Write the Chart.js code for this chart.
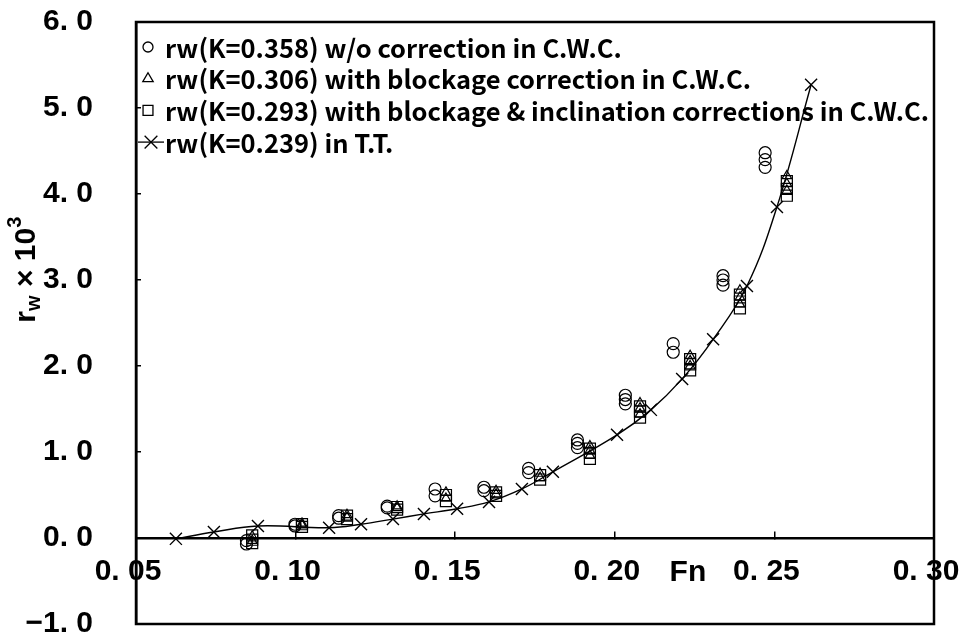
<!DOCTYPE html>
<html>
<head>
<meta charset="utf-8">
<script src="https://cdn.jsdelivr.net/npm/chart.js@4/dist/chart.umd.min.js"></script>
<style>
  html, body { margin: 0; padding: 0; background: #fff; }
  #wrap { width: 963px; height: 641px; }
</style>
</head>
<body>
<div id="wrap"><canvas id="c" width="963" height="641"></canvas></div>
<script>
// ---- data: wave-making resistance coefficient r_w (x 10^3) vs Froude number Fn ----

// C.W.C., K=0.358, no correction
const fnNoCorr = [0.0846, 0.0846, 0.0998, 0.0998, 0.1135, 0.1135, 0.1287, 0.1287,
                  0.1437, 0.1437, 0.1590, 0.1590, 0.1730, 0.1730, 0.1883, 0.1883, 0.1883,
                  0.2033, 0.2033, 0.2033, 0.2183, 0.2183, 0.2339, 0.2339, 0.2339,
                  0.2471, 0.2471, 0.2471];
const rwNoCorr = [-0.03, -0.07, 0.14, 0.16, 0.23, 0.26, 0.35, 0.37,
                  0.49, 0.57, 0.55, 0.59, 0.76, 0.81, 1.05, 1.10, 1.14,
                  1.56, 1.61, 1.66, 2.16, 2.26, 2.94, 3.00, 3.05,
                  4.31, 4.40, 4.48];

// C.W.C., K=0.306, blockage correction
const fnBlockage = [0.0864, 0.0864, 0.1020, 0.1020, 0.1161, 0.1161, 0.1318, 0.1318,
                    0.1471, 0.1471, 0.1628, 0.1628, 0.1766, 0.1766, 0.1922, 0.1922, 0.1922,
                    0.2079, 0.2079, 0.2079, 0.2236, 0.2236, 0.2236, 0.2392, 0.2392, 0.2392,
                    0.2539, 0.2539, 0.2539];
const rwBlockage = [0.02, -0.03, 0.15, 0.17, 0.24, 0.27, 0.35, 0.37,
                    0.46, 0.53, 0.51, 0.55, 0.70, 0.75, 0.96, 1.02, 1.07,
                    1.44, 1.51, 1.57, 2.00, 2.06, 2.12, 2.72, 2.80, 2.88,
                    4.04, 4.12, 4.21];

// C.W.C., K=0.293, blockage & inclination corrections
const fnBlockIncl = [0.0864, 0.0864, 0.0864, 0.1020, 0.1020, 0.1161, 0.1161, 0.1318, 0.1318,
                     0.1471, 0.1471, 0.1628, 0.1628, 0.1766, 0.1766, 0.1922, 0.1922, 0.1922,
                     0.2079, 0.2079, 0.2079, 0.2236, 0.2236, 0.2236, 0.2392, 0.2392, 0.2392,
                     0.2539, 0.2539, 0.2539];
const rwBlockIncl = [0.03, -0.02, -0.06, 0.13, 0.16, 0.22, 0.26, 0.33, 0.36,
                     0.43, 0.50, 0.49, 0.53, 0.68, 0.73, 0.92, 0.99, 1.04,
                     1.40, 1.47, 1.53, 1.95, 2.02, 2.08, 2.67, 2.75, 2.83,
                     3.98, 4.06, 4.15];

// Towing tank, K=0.239
const fnTowing = [0.0625, 0.0744, 0.0882, 0.1105, 0.1205, 0.1305, 0.1402, 0.1506, 0.1606,
                  0.1709, 0.1806, 0.2007, 0.2113, 0.2211, 0.2308, 0.2414, 0.2508, 0.2615];
const rwTowing = [-0.01, 0.07, 0.14, 0.12, 0.16, 0.22, 0.28, 0.34, 0.42,
                  0.57, 0.77, 1.20, 1.49, 1.85, 2.31, 2.93, 3.85, 5.27];

const seriesLabels = [
  'rw(K=0.358) w/o correction in C.W.C.',
  'rw(K=0.306) with blockage correction in C.W.C.',
  'rw(K=0.293) with blockage & inclination corrections in C.W.C.',
  'rw(K=0.239) in T.T.'
];

// axis ticks
const xTickValues = [0.05, 0.10, 0.15, 0.20, 0.25, 0.30];
const xTickLabels = ['0. 05', '0. 10', '0. 15', '0. 20', '0. 25', '0. 30'];
const yTickValues = [-1, 0, 1, 2, 3, 4, 5, 6];
const yTickLabels = ['\u22121. 0', '0. 0', '1. 0', '2. 0', '3. 0', '4. 0', '5. 0', '6. 0'];
const xAxisName = 'Fn';
const xAxisNameAt = 0.2229;

// ---- styling ----
const INK = '#000';
const axisFamily = "'Liberation Sans', Arial, sans-serif";
const tickFont = { family: axisFamily, size: 30, weight: 'bold' };
const legendFont = "bold 25.5px 'Noto Sans CJK JP', 'Liberation Sans', sans-serif";

const toPoints = (xs, ys) => xs.map((x, i) => ({ x: x, y: ys[i] }));

function drawMarker(ctx, style, x, y, r) {
  ctx.beginPath();
  if (style === 'circle') {
    ctx.arc(x, y, r, 0, Math.PI * 2);
  } else if (style === 'triangle') {
    ctx.moveTo(x, y - r);
    ctx.lineTo(x + r * 0.866, y + r * 0.5);
    ctx.lineTo(x - r * 0.866, y + r * 0.5);
    ctx.closePath();
  } else if (style === 'rect') {
    const s = r * Math.SQRT1_2;
    ctx.rect(x - s, y - s, 2 * s, 2 * s);
  } else if (style === 'crossRot') {
    const d = r * Math.SQRT1_2;
    ctx.moveTo(x - d, y - d); ctx.lineTo(x + d, y + d);
    ctx.moveTo(x - d, y + d); ctx.lineTo(x + d, y - d);
  }
  ctx.stroke();
}

// outer frame of the plot area
const plotFrame = {
  id: 'plotFrame',
  afterDatasetsDraw(chart) {
    const { ctx, chartArea: a } = chart;
    ctx.save();
    ctx.strokeStyle = INK;
    ctx.lineWidth = 2.5;
    ctx.strokeRect(a.left, a.top, a.right - a.left, a.bottom - a.top);
    ctx.restore();
  }
};

// legend listed inside the top-left corner of the plot
const innerLegend = {
  id: 'innerLegend',
  afterDraw(chart) {
    const { ctx, chartArea: a } = chart;
    const markerX = a.left + 12;
    const textX = a.left + 29;
    const firstRow = a.top + 25;
    const rowGap = 31.7;
    const legendRadius = { circle: 5, triangle: 6, rect: 7, crossRot: 9 };
    ctx.save();
    ctx.font = legendFont;
    ctx.textBaseline = 'middle';
    ctx.fillStyle = INK;
    ctx.strokeStyle = INK;
    chart.data.datasets.forEach((ds, i) => {
      const y = firstRow + i * rowGap;
      ctx.lineWidth = 1.3;
      if (ds.showLine) {
        ctx.beginPath();
        ctx.moveTo(a.left + 2, y);
        ctx.lineTo(textX - 1, y);
        ctx.stroke();
      }
      drawMarker(ctx, ds.pointStyle, markerX + (ds.showLine ? 3 : 0), y, legendRadius[ds.pointStyle]);
      ctx.fillText(ds.label, textX, y + 1);
    });
    ctx.restore();
  }
};

// rotated y-axis title with subscript and superscript, plus the Fn name on the x axis
const axisNames = {
  id: 'axisNames',
  afterDraw(chart) {
    const { ctx } = chart;
    const xs = chart.scales.x, ys = chart.scales.y;
    const big = "bold 30px " + axisFamily;
    const small = "bold 20px " + axisFamily;
    const pieces = [
      { t: 'r', f: big, dy: 0 },
      { t: 'w', f: small, dy: 7 },
      { t: ' \u00d7 10', f: big, dy: 0 },
      { t: '3', f: small, dy: -12 }
    ];
    ctx.save();
    ctx.fillStyle = INK;
    ctx.textBaseline = 'middle';
    let total = 0;
    pieces.forEach(p => { ctx.font = p.f; p.w = ctx.measureText(p.t).width; total += p.w; });
    ctx.translate(27, ys.getPixelForValue(3.12));
    ctx.rotate(-Math.PI / 2);
    let cx = -total / 2;
    pieces.forEach(p => { ctx.font = p.f; ctx.fillText(p.t, cx, p.dy); cx += p.w; });
    ctx.restore();

    ctx.save();
    ctx.fillStyle = INK;
    ctx.font = "bold 30px " + axisFamily;
    ctx.textAlign = 'center';
    ctx.textBaseline = 'middle';
    ctx.fillText(xAxisName, xs.getPixelForValue(xAxisNameAt), ys.getPixelForValue(0) + 35);
    ctx.restore();
  }
};

// keep the plot box fixed: no extra room reserved for overhanging tick labels
function noOverhang(s) {
  s.paddingLeft = 0; s.paddingRight = 0; s.paddingTop = 0; s.paddingBottom = 0;
}

new Chart(document.getElementById('c'), {
  type: 'scatter',
  data: {
    datasets: [
      {
        label: seriesLabels[0],
        data: toPoints(fnNoCorr, rwNoCorr),
        pointStyle: 'circle', pointRadius: 6, borderWidth: 1.2,
        borderColor: INK, backgroundColor: 'rgba(0,0,0,0)', showLine: false
      },
      {
        label: seriesLabels[1],
        data: toPoints(fnBlockage, rwBlockage),
        pointStyle: 'triangle', pointRadius: 5.5, borderWidth: 1.2,
        borderColor: INK, backgroundColor: 'rgba(0,0,0,0)', showLine: false
      },
      {
        label: seriesLabels[2],
        data: toPoints(fnBlockIncl, rwBlockIncl),
        pointStyle: 'rect', pointRadius: 7.8, borderWidth: 1.2,
        borderColor: INK, backgroundColor: 'rgba(0,0,0,0)', showLine: false
      },
      {
        label: seriesLabels[3],
        data: toPoints(fnTowing, rwTowing),
        pointStyle: 'crossRot', pointRadius: 8.5, borderWidth: 1.4, pointBorderWidth: 1.4,
        borderColor: INK, backgroundColor: 'rgba(0,0,0,0)', showLine: true,
        tension: 0.4
      }
    ]
  },
  options: {
    responsive: false,
    animation: false,
    devicePixelRatio: 1,
    layout: { padding: { left: 0, top: 22, right: 29, bottom: 17 } },
    plugins: { legend: { display: false }, tooltip: { enabled: false } },
    scales: {
      x: {
        type: 'linear',
        position: { y: 0 },
        min: 0.05, max: 0.30,
        afterBuildTicks: s => { s.ticks = xTickValues.map(v => ({ value: v })); },
        afterFit: s => { noOverhang(s); s.height = 0; },
        ticks: {
          callback: (v, i) => xTickLabels[i],
          font: tickFont, color: INK, padding: 24, labelOffset: -8,
          maxRotation: 0, autoSkip: false
        },
        grid: { drawOnChartArea: false, drawTicks: true, tickLength: -8, color: INK, lineWidth: 1.5 },
        border: { display: true, color: INK, width: 2.5 }
      },
      y: {
        type: 'linear',
        position: 'left',
        min: -1, max: 6,
        afterBuildTicks: s => { s.ticks = yTickValues.map(v => ({ value: v })); },
        afterFit: s => { noOverhang(s); s.width = 136; },
        ticks: {
          callback: (v, i) => yTickLabels[i],
          font: tickFont, color: INK, padding: 48, autoSkip: false
        },
        grid: { drawOnChartArea: false, drawTicks: true, tickLength: -5, color: INK, lineWidth: 1.5 },
        border: { display: true, color: INK, width: 2.5 }
      }
    }
  },
  plugins: [plotFrame, innerLegend, axisNames]
});
</script>
</body>
</html>
